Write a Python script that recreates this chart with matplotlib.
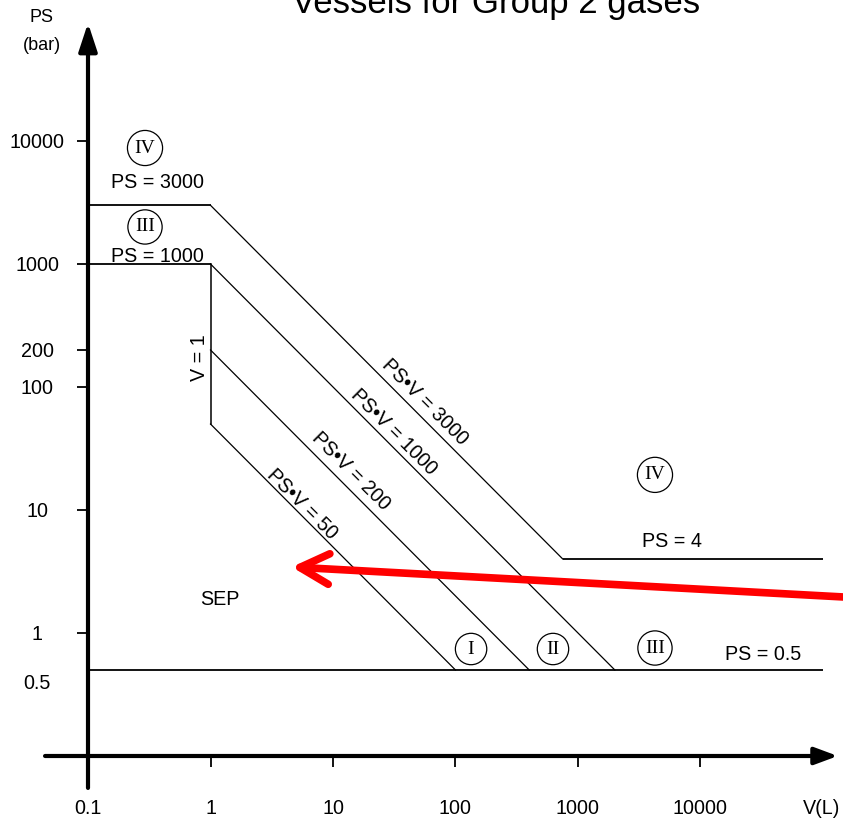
import numpy as np
import matplotlib.pyplot as plt

plt.rcParams['font.family'] = ['Liberation Sans', 'DejaVu Sans']

### Chart data: V in litres, PS in bar
# horizontal limits PS = const
ps_levels = [3000, 1000, 4, 0.5]
ps_v_from = [0.1, 0.1, 750, 0.1]
ps_v_to = [1, 1, 1e5, 1e5]

# PS*V = const limits (start / end points)
psv_consts = [3000, 1000, 200, 50]
psv_v = [[1, 750], [1, 2000], [1, 400], [1, 100]]
psv_ps = [[3000, 4], [1000, 0.5], [200, 0.5], [50, 0.5]]

# vertical limit V = 1
v1_v = [1, 1]
v1_ps = [1000, 50]

# axis ticks
x_ticks = [0.1, 1, 10, 100, 1000, 10000]
x_tick_labels = ['0.1', '1', '10', '100', '1000', '10000']
y_ticks = [1, 10, 100, 200, 1000, 10000]
y_tick_labels = ['1', '10', '100', '200', '1000', '10000']

# category markers (roman numerals in circles)
cat_labels = ['IV', 'III', 'I', 'II', 'III', 'IV']
cat_v = [0.292, 0.292, 134, 625, 4250, 4250]
cat_ps = [8770, 2000, 0.741, 0.741, 0.755, 19.3]

# red arrow (tail -> tip)
arrow_tail = (2.0e5, 1.93)
arrow_tip = (4.6, 3.44)

fs = 14.2


### Figure
fig = plt.figure(figsize=(8.43, 8.18), dpi=100)
fig.set_facecolor('white')
ax = fig.add_axes([0, 0, 1, 1])
ax.set_xscale('log')
ax.set_yscale('log')
ax.set_xlim(10 ** -1.7184, 10 ** 5.1633)
ax.set_ylim(10 ** -1.5041, 10 ** 5.1463)
ax.patch.set_visible(False)

### Axes crossing at (0.1, 0.1)
for s in ['top', 'right']:
    ax.spines[s].set_visible(False)
ax.spines['left'].set_position(('data', 0.1))
ax.spines['bottom'].set_position(('data', 0.1))
ax.spines['left'].set_visible(False)
ax.spines['bottom'].set_visible(False)

ax.annotate('', xy=(0.1, 91000), xytext=(0.1, 0.055),
            arrowprops=dict(arrowstyle='-|>,head_length=0.85,head_width=0.28',
                            color='black', lw=3, shrinkA=0, shrinkB=0,
                            mutation_scale=20),
            annotation_clip=False)
ax.annotate('', xy=(1.32e5, 0.1), xytext=(0.0446, 0.1),
            arrowprops=dict(arrowstyle='-|>,head_length=0.7,head_width=0.26',
                            color='black', lw=3, shrinkA=0, shrinkB=0,
                            mutation_scale=20),
            annotation_clip=False)

### Ticks
ax.set_xticks(x_ticks, x_tick_labels)
ax.set_yticks(y_ticks, y_tick_labels, ha='center')
ax.minorticks_off()
ax.tick_params(axis='x', direction='out', length=8, width=1.3, pad=23,
               labelsize=fs, color='black')
ax.tick_params(axis='y', direction='out', length=8, width=1.3, pad=28.5,
               labelsize=fs, color='black')
ax.text(0.0384, 0.392, '0.5', ha='center', va='center', fontsize=fs)
ax.text(9.8e4, 0.0445, 'V(L)', ha='center', va='top', fontsize=fs)
ax.text(0.0421, 1.0e5, 'PS', ha='center', va='center', fontsize=13)
ax.text(0.0421, 6.03e4, '(bar)', ha='center', va='center', fontsize=13)

### Limit lines
for ps, v0, v1 in zip(ps_levels, ps_v_from, ps_v_to):
    ax.plot([v0, v1], [ps, ps], color='black', lw=1.3, solid_capstyle='butt')
for vv, pp in zip(psv_v, psv_ps):
    ax.plot(vv, pp, color='black', lw=0.9)
ax.plot(v1_v, v1_ps, color='black', lw=1.1)

### Labels on the limits
ax.text(0.366, 4150, 'PS = 3000', ha='center', va='baseline', fontsize=fs)
ax.text(0.366, 1038, 'PS = 1000', ha='center', va='baseline', fontsize=fs)
ax.text(5850, 5.0, 'PS = 4', ha='center', va='baseline', fontsize=fs)
ax.text(32400, 0.603, 'PS = 0.5', ha='center', va='baseline', fontsize=fs)
ax.text(1.2, 1.69, 'SEP', ha='center', va='baseline', fontsize=fs)
ax.text(0.806, 172, 'V = 1', ha='center', va='center', rotation=90, fontsize=fs)

psv_text_pos = [(56.4, 75.5), (31.5, 43.1), (14.0, 20.8), (5.58, 11.2)]
for c, (tv, tp) in zip(psv_consts, psv_text_pos):
    ax.text(tv, tp, f'PS\u2022V = {c}', ha='center', va='center',
            rotation=-45, fontsize=fs)

for lab, cv, cp in zip(cat_labels, cat_v, cat_ps):
    ax.text(cv, cp, lab, ha='center', va='center', fontsize=14,
            family='Liberation Serif',
            bbox=dict(boxstyle='circle,pad=0.37', fc='none', ec='black', lw=0.9))

### Red arrow
ax.annotate('', xy=arrow_tip, xytext=arrow_tail,
            arrowprops=dict(arrowstyle='->,head_length=1.05,head_width=0.55',
                            color='#ff0000', lw=5.5, shrinkA=0, shrinkB=0,
                            mutation_scale=20, capstyle='round',
                            joinstyle='round'),
            annotation_clip=False)

### Title (partly cut off at the top, as in the original)
fig.text(0.588, 0.984, 'Vessels for Group 2 gases', ha='center', va='baseline',
         fontsize=25)

fig.savefig('out.png', dpi=100, facecolor='white')
